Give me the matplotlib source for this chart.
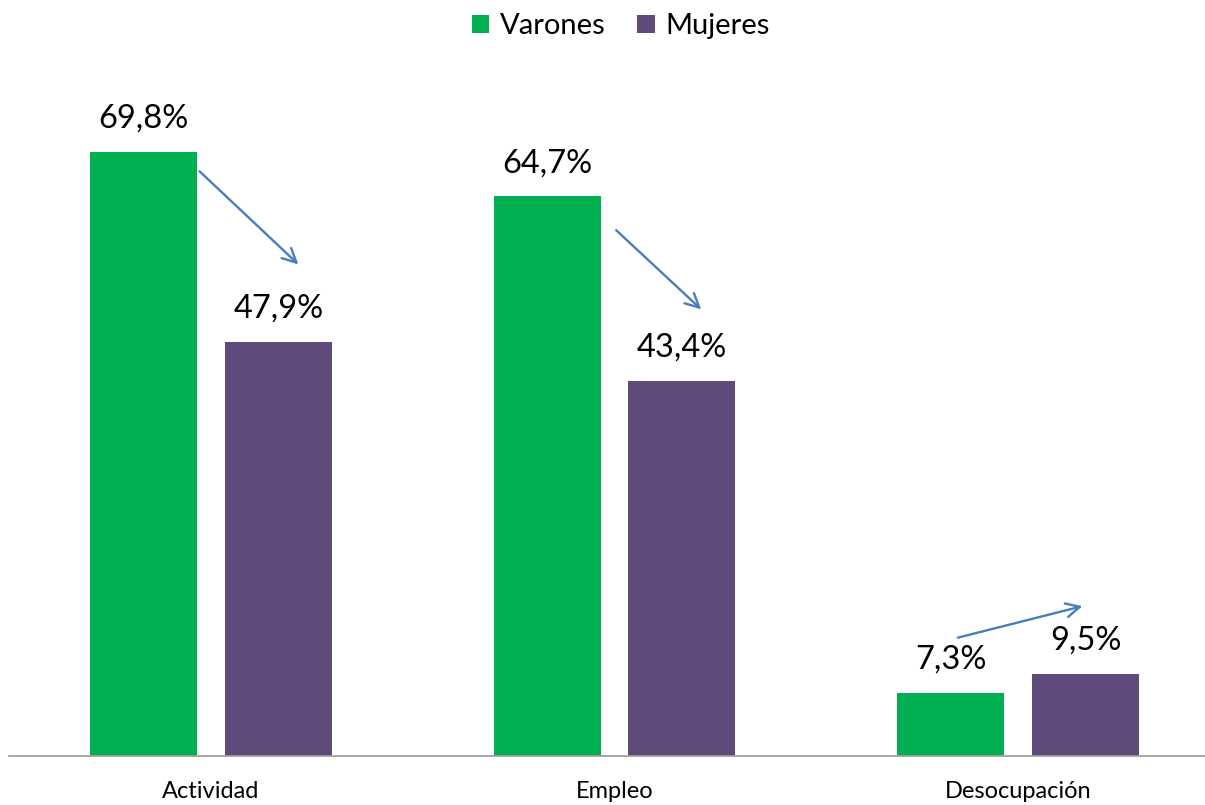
import matplotlib
matplotlib.use("Agg")
import matplotlib.pyplot as plt
import numpy as np

categories = ["Actividad", "Empleo", "Desocupación"]
varones = [69.8, 64.7, 7.3]
mujeres = [47.9, 43.4, 9.5]

# trend arrows in data coordinates: (x_start, y_start, x_end, y_end)
arrows = [
    (-0.033, 67.8, 0.222, 56.6),
    (0.999, 61.0, 1.220, 51.4),
    (1.844, 13.6, 2.166, 17.4),
]

GREEN = "#00B050"
PURPLE = "#604A7B"
ARROW = "#4A7EBB"

plt.rcParams["font.family"] = ["Lato", "DejaVu Sans"]

fig = plt.figure(figsize=(12.05, 8.05), dpi=100)
ax = fig.add_axes([9 / 1205, (805 - 756) / 805, 1196 / 1205, 693 / 805])

x = np.arange(len(categories))
width = 0.265
offset = 0.167

bars_v = ax.bar(x - offset, varones, width, color=GREEN, label="Varones")
bars_m = ax.bar(x + offset, mujeres, width, color=PURPLE, label="Mujeres")

for bars, values in ((bars_v, varones), (bars_m, mujeres)):
    for bar, val in zip(bars, values):
        ax.text(bar.get_x() + bar.get_width() / 2, val + 2.1,
                f"{val:.1f}%".replace(".", ","),
                ha="center", va="bottom", fontsize=23.5, color="black")

for x0, y0, x1, y1 in arrows:
    ax.annotate("", xy=(x1, y1), xytext=(x0, y0),
                arrowprops=dict(arrowstyle="->,head_length=1.0,head_width=0.5",
                                color=ARROW, lw=1.7))

ax.set_xlim(-0.5, 2.5 - 15 / 403.75)
ax.set_ylim(0, 80.1)
ax.set_xticks(x)
ax.set_xticklabels(categories, fontsize=17)
ax.tick_params(axis="x", length=0, pad=18)
ax.set_yticks([])
for side in ("top", "right", "left"):
    ax.spines[side].set_visible(False)
ax.spines["bottom"].set_color("#A0A0A0")
ax.spines["bottom"].set_linewidth(1.3)

fig.legend(loc="upper center", bbox_to_anchor=(0.515, 1.016), ncol=2,
           frameon=False, fontsize=21, handlelength=0.6, handleheight=0.6,
           handletextpad=0.35, columnspacing=1.1)

fig.savefig("out.png", dpi=100)
